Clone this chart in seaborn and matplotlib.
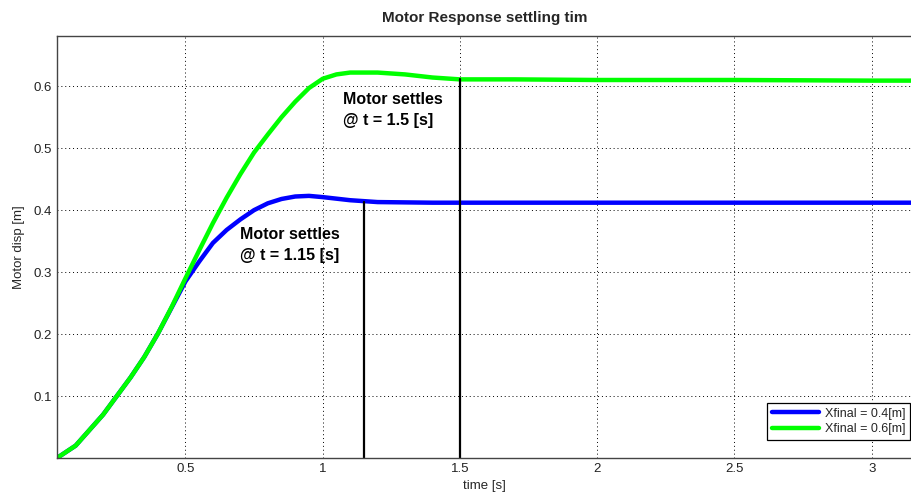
import matplotlib
matplotlib.use("Agg")
import matplotlib.pyplot as plt
import numpy as np
import pandas as pd
import seaborn as sns

# Step responses of the motor for two target displacements
t_blue = [0.032, 0.10, 0.14, 0.20, 0.25, 0.30, 0.35, 0.40, 0.45, 0.50, 0.55,
          0.60, 0.65, 0.70, 0.75, 0.80, 0.85, 0.90, 0.95, 1.00, 1.10, 1.20,
          1.40, 1.60, 2.00, 2.50, 3.00, 3.15]
x_blue = [0.000, 0.020, 0.040, 0.070, 0.100, 0.130, 0.163, 0.201, 0.243, 0.285, 0.317,
          0.347, 0.368, 0.385, 0.400, 0.411, 0.418, 0.422, 0.423, 0.421, 0.416, 0.413,
          0.412, 0.412, 0.412, 0.412, 0.412, 0.412]

t_green = [0.032, 0.10, 0.14, 0.20, 0.25, 0.30, 0.35, 0.40, 0.45, 0.50, 0.55,
           0.60, 0.65, 0.70, 0.75, 0.80, 0.85, 0.90, 0.95, 1.00, 1.05, 1.10,
           1.20, 1.30, 1.40, 1.50, 1.70, 2.00, 2.50, 3.00, 3.15]
x_green = [0.000, 0.020, 0.040, 0.070, 0.100, 0.130, 0.163, 0.201, 0.244, 0.290, 0.335,
           0.379, 0.420, 0.458, 0.493, 0.522, 0.550, 0.575, 0.597, 0.612, 0.619, 0.622,
           0.622, 0.619, 0.614, 0.611, 0.611, 0.610, 0.610, 0.609, 0.609]

series_labels = ["Xfinal = 0.4[m]", "Xfinal = 0.6[m]"]
series_colors = ["#0000ff", "#00ff00"]

# Settling instants and the displacement reached there
settle_times = [1.15, 1.5]
settle_levels = [0.413, 0.611]
settle_notes = ["Motor settles\n@ t = 1.15 [s]", "Motor settles\n@ t = 1.5 [s]"]
note_pos = [(0.70, 0.372), (1.075, 0.590)]

x_ticks = [0.5, 1, 1.5, 2, 2.5, 3]
x_tick_labels = ["0.5", "1", "1.5", "2", "2.5", "3"]
y_ticks = [0.1, 0.2, 0.3, 0.4, 0.5, 0.6]
y_tick_labels = ["0.1", "0.2", "0.3", "0.4", "0.5", "0.6"]

sns.set_style("white")
plt.rcParams["font.family"] = ["Liberation Sans", "DejaVu Sans"]

df = pd.concat([
    pd.DataFrame({"time": t_blue, "disp": x_blue, "series": series_labels[0]}),
    pd.DataFrame({"time": t_green, "disp": x_green, "series": series_labels[1]}),
], ignore_index=True)

fig = plt.figure(figsize=(9.11, 4.97), dpi=100)
ax = fig.add_axes([57 / 911, 39 / 497, 855 / 911, 422 / 497])

sns.lineplot(data=df, x="time", y="disp", hue="series",
             palette=dict(zip(series_labels, series_colors)),
             linewidth=3.2, ax=ax, legend=False, sort=False, estimator=None)

# vertical markers at the settling instants
for ts, lvl in zip(settle_times, settle_levels):
    sns.lineplot(x=[ts, ts], y=[0.0, lvl], color="black", linewidth=1.6,
                 ax=ax, legend=False, estimator=None, sort=False)

for (tx, ty), note in zip(note_pos, settle_notes):
    ax.text(tx, ty, note, fontsize=11.5, fontweight="bold", ha="left",
            va="top", linespacing=1.45, color="black")

ax.set_xlim(0.032, 3.147)
ax.set_ylim(0, 0.681)
ax.set_xticks(x_ticks)
ax.set_xticklabels(x_tick_labels)
ax.set_yticks(y_ticks)
ax.set_yticklabels(y_tick_labels)
ax.tick_params(direction="in", length=4, width=0.8, labelsize=9.5,
               colors="#222222", top=False, right=False)
ax.grid(True, linestyle=(0, (1, 3)), color="black", linewidth=0.7)
for side, sp in ax.spines.items():
    sp.set_color("#444444")
    sp.set_linewidth(1.0)

ax.set_xlabel("time [s]", fontsize=9.5, labelpad=4)
ax.set_ylabel("Motor disp [m]", fontsize=9.5, labelpad=6)
ax.set_title("Motor Response settling tim", fontsize=11, fontweight="bold", pad=10)

handles = [plt.Line2D([], [], color=c, linewidth=3.2) for c in series_colors]
leg = ax.legend(handles, series_labels, loc="lower right",
                bbox_to_anchor=(0.998, 0.043), borderaxespad=0,
                fontsize=9, handlelength=3.8, fancybox=False, framealpha=1,
                edgecolor="black", borderpad=0.35, labelspacing=0.3,
                handletextpad=0.5)
leg.get_frame().set_linewidth(0.9)

fig.savefig("out.png", dpi=100)
